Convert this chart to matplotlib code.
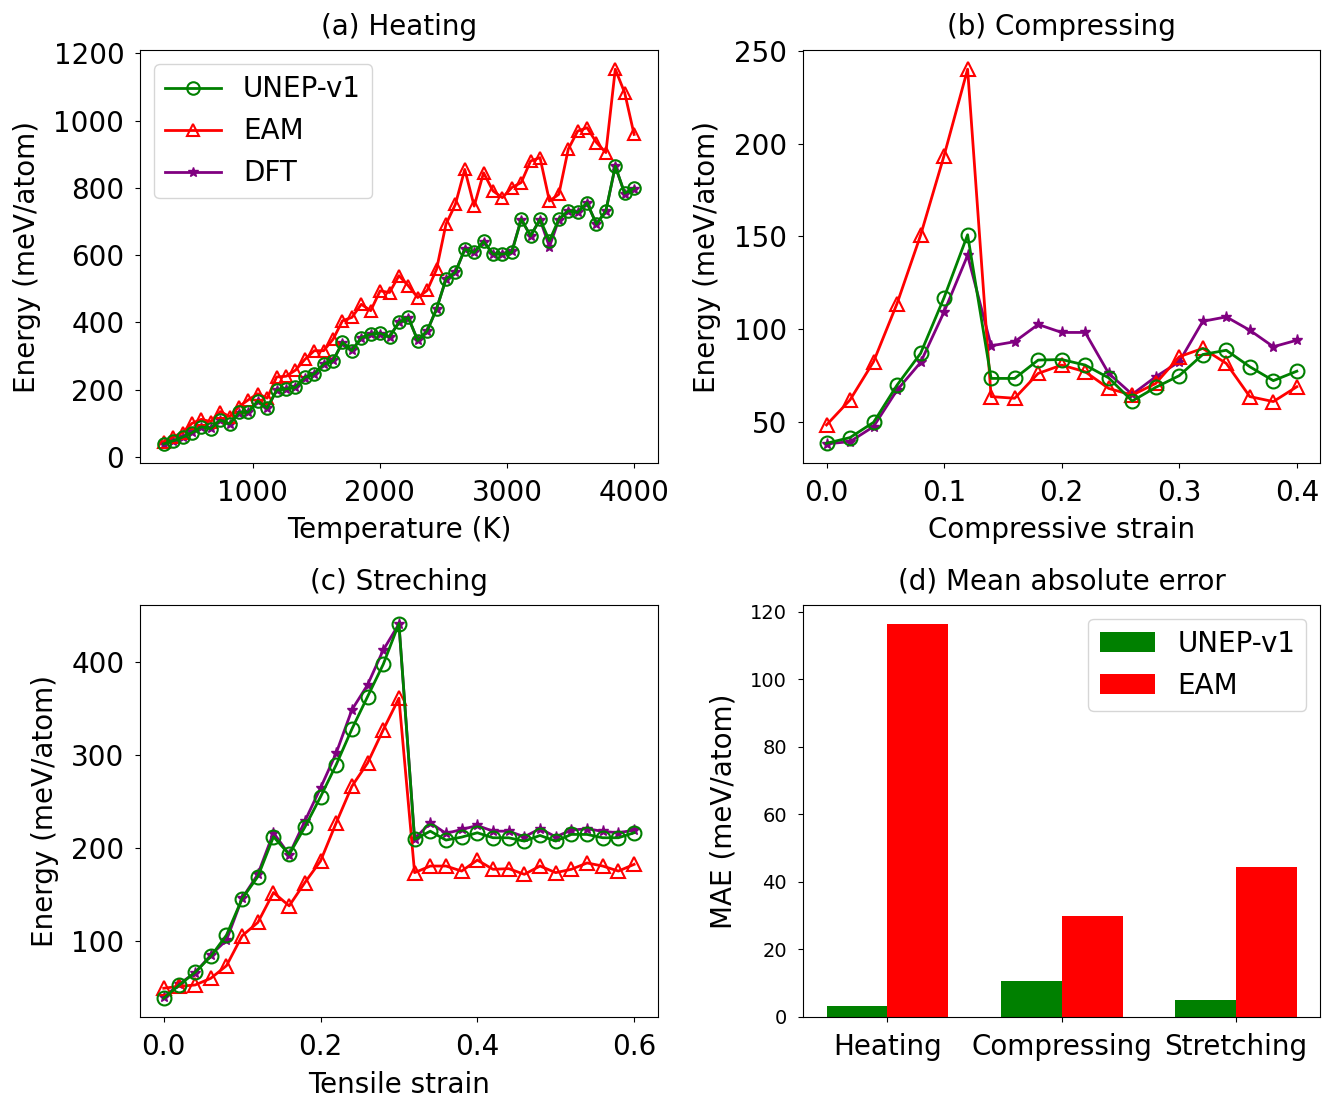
import numpy as np
from matplotlib import pyplot as plt

# (a) heating
temps = [300, 374, 448, 522, 596, 670, 744, 818, 892, 966, 1040, 1114, 1188, 1262,
         1336, 1410, 1484, 1558, 1632, 1706, 1780, 1854, 1928, 2002, 2076, 2150, 2224,
         2298, 2372, 2446, 2520, 2594, 2668, 2742, 2816, 2890, 2964, 3038, 3112, 3186,
         3260, 3334, 3408, 3482, 3556, 3630, 3704, 3778, 3852, 3926, 4000]
heat_unep = [39, 48, 59, 72, 90, 84, 110, 98, 133, 133, 167, 145, 199, 202, 207, 237, 247,
             276, 286, 341, 316, 355, 365, 368, 357, 400, 415, 346, 375, 440, 529, 549, 618,
             608, 641, 603, 603, 608, 707, 657, 707, 643, 707, 732, 727, 756, 692, 732, 865,
             784, 799]
heat_eam = [45, 60, 72, 100, 112, 105, 135, 120, 150, 170, 188, 175, 238, 240, 258, 290, 316,
            316, 350, 405, 415, 454, 435, 494, 489, 539, 509, 474, 495, 558, 692, 751, 855,
            746, 845, 791, 771, 801, 816, 880, 890, 761, 781, 915, 969, 979, 935, 905, 1153,
            1083, 959]
heat_dft = [40, 47, 60, 73, 89, 85, 111, 97, 132, 134, 166, 146, 198, 203, 208, 236, 248,
            275, 287, 340, 317, 354, 366, 367, 358, 401, 414, 347, 374, 441, 528, 550, 617,
            609, 640, 604, 605, 612, 706, 658, 706, 625, 706, 731, 728, 755, 693, 731, 864,
            783, 798]

# (b) compressing
comp_strain = [0.00, 0.02, 0.04, 0.06, 0.08, 0.10, 0.12, 0.14, 0.16, 0.18, 0.20,
               0.22, 0.24, 0.26, 0.28, 0.30, 0.32, 0.34, 0.36, 0.38, 0.40]
comp_unep = [38.3, 41.4, 49.6, 69.7, 86.8, 116.9, 150.8, 73.3, 73.3, 83.2, 83.5,
             80.5, 73.6, 61.1, 68.5, 74.8, 86.2, 88.5, 79.6, 72.1, 77.2]
comp_eam = [48.2, 61.7, 82.3, 113.7, 150.5, 193.5, 240.1, 63.5, 62.6, 76.0, 80.5,
            76.9, 67.9, 64.3, 70.6, 85.0, 89.5, 81.4, 63.5, 60.8, 68.8]
comp_dft = [38.0, 39.2, 47.3, 67.0, 81.9, 109.2, 139.7, 90.9, 93.1, 102.4, 98.1,
            98.1, 76.0, 64.7, 74.2, 82.3, 104.1, 106.5, 99.3, 90.4, 93.9]

# (c) stretching
tens_strain = [0.00, 0.02, 0.04, 0.06, 0.08, 0.10, 0.12, 0.14, 0.16, 0.18, 0.20,
               0.22, 0.24, 0.26, 0.28, 0.30, 0.32, 0.34, 0.36, 0.38, 0.40,
               0.42, 0.44, 0.46, 0.48, 0.50, 0.52, 0.54, 0.56, 0.58, 0.60]
tens_unep = [38.6, 52.8, 66.4, 83.6, 106.4, 145.7, 169.3, 212.2, 193.2, 222.5, 255.1,
             289.7, 328.0, 362.9, 397.6, 441.5, 209.3, 218.2, 208.6, 211.8, 216.5,
             211.1, 211.1, 207.5, 213.6, 207.5, 214.7, 214.7, 211.1, 211.1, 216.5]
tens_eam = [49.3, 51.4, 52.8, 60.0, 73.5, 105.7, 120.0, 152.2, 137.9, 162.9, 186.1,
            227.2, 266.5, 291.5, 327.2, 361.2, 173.6, 180.7, 180.7, 175.3, 187.1,
            177.2, 177.9, 171.8, 180.7, 173.6, 177.2, 184.0, 180.7, 175.3, 182.5]
tens_dft = [39.5, 54.0, 66.0, 85.0, 101.0, 146.0, 171.8, 216.5, 193.0, 229.0, 264.7,
            302.2, 348.7, 375.5, 413.0, 441.0, 210.0, 227.2, 215.8, 220.0, 224.3,
            218.2, 218.2, 212.2, 220.8, 212.2, 219.3, 220.8, 218.0, 216.5, 219.3]

# (d) MAE
cases = ['Heating', 'Compressing', 'Stretching']
mae_unep = [3.2, 10.6, 5.0]
mae_eam = [116.2, 29.9, 44.4]

fs = 20
lw = 2
tpad = 8


def draw_lines(ax, x, unep, eam, dft, ms):
    h3, = ax.plot(x, dft, color='purple', marker='*', markersize=ms - 2, lw=lw, label='DFT')
    h2, = ax.plot(x, eam, color='red', marker='^', markersize=ms, mfc='none', mew=1.5,
                  lw=lw, label='EAM')
    h1, = ax.plot(x, unep, color='green', marker='o', markersize=ms, mfc='none', mew=1.5,
                  lw=lw, label='UNEP-v1')
    ax.tick_params(axis='both', which='major', labelsize=fs, pad=tpad)
    return [h1, h2, h3]


fig = plt.figure(figsize=(13.23, 10.97), dpi=100)
plt.subplots_adjust(left=0.106, right=0.998, bottom=0.073, top=0.954,
                    wspace=0.281, hspace=0.345)

ax = plt.subplot(2, 2, 1)
handles = draw_lines(ax, temps, heat_unep, heat_eam, heat_dft, 9)
ax.set_title('(a) Heating', fontsize=fs, pad=11)
ax.set_xlabel('Temperature (K)', fontsize=fs, labelpad=7)
ax.set_ylabel('Energy (meV/atom)', fontsize=fs, labelpad=9)
ax.set_yticks([0, 200, 400, 600, 800, 1000, 1200])
ax.legend(handles=handles, loc='upper left', fontsize=fs)

ax = plt.subplot(2, 2, 2)
draw_lines(ax, comp_strain, comp_unep, comp_eam, comp_dft, 10)
ax.set_title('(b) Compressing', fontsize=fs, pad=11)
ax.set_xlabel('Compressive strain', fontsize=fs, labelpad=7)
ax.set_ylabel('Energy (meV/atom)', fontsize=fs, labelpad=9)
ax.set_xticks([0.0, 0.1, 0.2, 0.3, 0.4])
ax.set_yticks([50, 100, 150, 200, 250])

ax = plt.subplot(2, 2, 3)
draw_lines(ax, tens_strain, tens_unep, tens_eam, tens_dft, 10)
ax.set_title('(c) Streching', fontsize=fs, pad=11)
ax.set_xlabel('Tensile strain', fontsize=fs, labelpad=7)
ax.set_ylabel('Energy (meV/atom)', fontsize=fs, labelpad=9)
ax.set_xticks([0.0, 0.2, 0.4, 0.6])
ax.set_yticks([100, 200, 300, 400])

ax = plt.subplot(2, 2, 4)
xpos = np.arange(len(cases))
w = 0.35
ax.bar(xpos - w / 2, mae_unep, w, color='green', label='UNEP-v1')
ax.bar(xpos + w / 2, mae_eam, w, color='red', label='EAM')
ax.set_xticks(xpos)
ax.set_xticklabels(cases, fontsize=fs)
ax.tick_params(axis='x', pad=tpad)
ax.tick_params(axis='y', labelsize=14, pad=tpad)
ax.set_yticks([0, 20, 40, 60, 80, 100, 120])
ax.set_title('(d) Mean absolute error', fontsize=fs, pad=11)
ax.set_ylabel('MAE (meV/atom)', fontsize=fs, labelpad=9)
ax.legend(loc='upper right', fontsize=fs)

plt.savefig('out.png', dpi=100)
